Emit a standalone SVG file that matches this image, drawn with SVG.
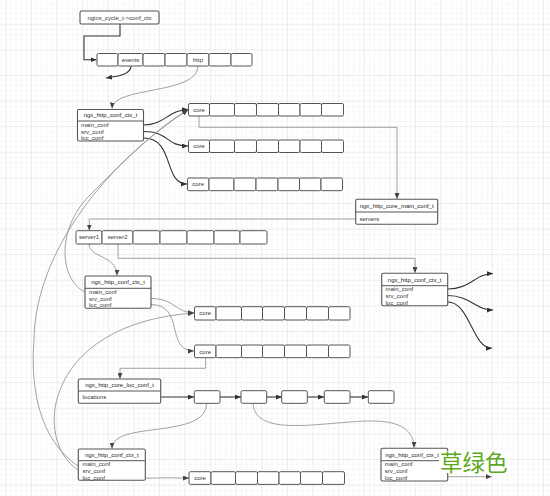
<svg xmlns="http://www.w3.org/2000/svg" width="550" height="496" viewBox="0 0 550 496">
<defs>
<pattern id="minor" width="5.12" height="5.12" patternUnits="userSpaceOnUse" x="5.4" y="23.8">
<path d="M0,0 H5.12 M0,0 V5.12" fill="none" stroke="#f1f1f1" stroke-width="1"/>
</pattern>
<pattern id="major" width="25.6" height="25.6" patternUnits="userSpaceOnUse" x="5.4" y="23.8">
<path d="M0,0 H25.6 M0,0 V25.6" fill="none" stroke="#e2e2e2" stroke-width="1"/>
</pattern>
<marker id="ad" markerWidth="6" markerHeight="5" refX="6" refY="2.5" orient="auto" markerUnits="userSpaceOnUse">
<path d="M0,0 L6,2.5 L0,5 z" fill="#333"/>
</marker>
<marker id="ag" markerWidth="6" markerHeight="5" refX="6" refY="2.5" orient="auto" markerUnits="userSpaceOnUse">
<path d="M0,0 L6,2.5 L0,5 z" fill="#444"/>
</marker>
<style>
.c{fill:#fff;stroke:#555;stroke-width:1}
.b{fill:#fff;stroke:#555;stroke-width:1.1}
.s{stroke:#555;stroke-width:1}
text{font-family:"Liberation Sans",Arial,sans-serif;font-size:6px;fill:#333}
.t{text-anchor:middle;fill:#222}
.m{text-anchor:middle}
.dk{fill:none;stroke:#333;stroke-width:1.1;marker-end:url(#ad)}
.gr{fill:none;stroke:#8a8a8a;stroke-width:0.8;marker-end:url(#ag)}
</style>
</defs>
<rect width="550" height="496" fill="#fff"/>
<rect width="550" height="496" fill="url(#minor)"/>
<rect width="550" height="496" fill="url(#major)"/>

<g id="connectors">
<path class="dk" d="M120,24 V36 H84 V59.7 H96.5"/>
<path class="dk" d="M131,66 C131,74 120,76 106,78"/>
<path class="gr" d="M198,66 C198,95 113,86 112,108.5"/>
<path class="dk" d="M143.5,125 C165,125 168,110 188,109.5"/>
<path class="dk" d="M143.5,131.5 C170,131.5 165,146 188,146"/>
<path class="dk" d="M143.5,138 C175,138 163,184 187,184"/>
<path class="gr" d="M199,116 V127.3 H397 V199"/>
<path class="gr" d="M355.7,219 H89.3 V230.5"/>
<path class="gr" d="M89,244 C89,258 117,255 117,275.5"/>
<path class="gr" d="M118,244 V258.3 H415 V273"/>
<path class="dk" d="M447.7,289 C470,289 475,274 493,273.5"/>
<path class="dk" d="M447.7,295.5 C470,295.5 475,310 493,310"/>
<path class="dk" d="M447.7,302 C470,302 472,348 492,348.3"/>
<path class="gr" d="M151,298.5 C175,298.5 175,312.7 194,312.7"/>
<path class="gr" d="M151,304.5 C185,304.5 165,351 194,351"/>
<path class="gr" d="M205.7,358 V368.3 H120 V378.7"/>
<path class="dk" d="M160.7,397 H194"/>
<path class="dk" d="M220,397 H241"/>
<path class="dk" d="M267,397 H282"/>
<path class="dk" d="M307,397 H324"/>
<path class="dk" d="M350,397 H368"/>
<path class="gr" d="M206.7,403.3 C206.7,440 112,420 112,448.5"/>
<path class="gr" d="M253,403.3 C255,440 330,420 376,421 C400,422 414,430 414,447.8"/>
<path class="gr" d="M145.3,478.3 C165,477.5 175,478 189,478"/>
<path class="gr" d="M447.7,476.7 H491.7"/>
<path class="gr" d="M85,292 C60,280 55,230 90,195 C120,165 160,125 188,110"/>
<path class="gr" d="M78,466 C40,440 30,390 34,340 C35,250 110,160 188,110"/>
<path class="gr" d="M78,470 C55,455 48,420 60,390 C75,350 120,318 194,313"/>
</g>

<g id="nginx_cycle">
<rect class="b" x="80" y="11" width="79" height="13" rx="1.5"/>
<text class="m" x="119.5" y="19.6">nginx_cycle_t-&gt;conf_ctx</text>
</g>

<g id="conf_ctx_array">
<rect class="c" x="97" y="53.5" width="21" height="12.5" rx="1.5"/>
<rect class="c" x="118" y="53.5" width="25" height="12.5" rx="1.5"/>
<rect class="c" x="143" y="53.5" width="22" height="12.5" rx="1.5"/>
<rect class="c" x="165" y="53.5" width="22" height="12.5" rx="1.5"/>
<rect class="c" x="187" y="53.5" width="22" height="12.5" rx="1.5"/>
<rect class="c" x="209" y="53.5" width="22" height="12.5" rx="1.5"/>
<rect class="c" x="231" y="53.5" width="21" height="12.5" rx="1.5"/>
<text class="m" x="130.5" y="61.8">events</text>
<text class="m" x="198" y="61.8">http</text>
</g>

<g id="ctx1">
<rect class="b" x="77.5" y="109.5" width="66" height="31.5" rx="1.5"/>
<line class="s" x1="77.5" y1="121" x2="143.5" y2="121"/>
<text class="t" x="110.5" y="117.3">ngx_http_conf_ctx_t</text>
<text x="81" y="127">main_conf</text>
<text x="81" y="133.5">srv_conf</text>
<text x="81" y="140">loc_conf</text>
</g>

<g id="core_row1">
<rect class="c" x="188.5" y="103.5" width="21" height="12.5" rx="1.5"/>
<rect class="c" x="209.5" y="103.5" width="25" height="12.5" rx="1.5"/>
<rect class="c" x="234.5" y="103.5" width="22" height="12.5" rx="1.5"/>
<rect class="c" x="256.5" y="103.5" width="22" height="12.5" rx="1.5"/>
<rect class="c" x="278.5" y="103.5" width="21.5" height="12.5" rx="1.5"/>
<rect class="c" x="300" y="103.5" width="21.5" height="12.5" rx="1.5"/>
<rect class="c" x="321.5" y="103.5" width="22" height="12.5" rx="1.5"/>
<text class="m" x="199" y="111.8">core</text>
</g>

<g id="core_row2">
<rect class="c" x="188.5" y="140" width="21" height="12.5" rx="1.5"/>
<rect class="c" x="209.5" y="140" width="25" height="12.5" rx="1.5"/>
<rect class="c" x="234.5" y="140" width="22" height="12.5" rx="1.5"/>
<rect class="c" x="256.5" y="140" width="22" height="12.5" rx="1.5"/>
<rect class="c" x="278.5" y="140" width="21.5" height="12.5" rx="1.5"/>
<rect class="c" x="300" y="140" width="21.5" height="12.5" rx="1.5"/>
<rect class="c" x="321.5" y="140" width="22" height="12.5" rx="1.5"/>
<text class="m" x="199" y="148.3">core</text>
</g>

<g id="core_row3">
<rect class="c" x="187.5" y="178" width="21.5" height="12.7" rx="1.5"/>
<rect class="c" x="209" y="178" width="25" height="12.7" rx="1.5"/>
<rect class="c" x="234" y="178" width="22" height="12.7" rx="1.5"/>
<rect class="c" x="256" y="178" width="22" height="12.7" rx="1.5"/>
<rect class="c" x="278" y="178" width="21.5" height="12.7" rx="1.5"/>
<rect class="c" x="299.5" y="178" width="21.5" height="12.7" rx="1.5"/>
<rect class="c" x="321" y="178" width="21.5" height="12.7" rx="1.5"/>
<text class="m" x="198.2" y="186.4">core</text>
</g>

<g id="core_main_conf">
<rect class="b" x="355.7" y="199.3" width="82" height="25" rx="1.5"/>
<line class="s" x1="355.7" y1="212" x2="437.7" y2="212"/>
<text class="t" x="396.7" y="207.7">ngx_http_core_main_conf_t</text>
<text x="359.5" y="220.6">servers</text>
</g>

<g id="servers_array">
<rect class="c" x="76" y="230.7" width="26" height="13.3" rx="1.5"/>
<rect class="c" x="102" y="230.7" width="31" height="13.3" rx="1.5"/>
<rect class="c" x="133" y="230.7" width="27" height="13.3" rx="1.5"/>
<rect class="c" x="160" y="230.7" width="27" height="13.3" rx="1.5"/>
<rect class="c" x="187" y="230.7" width="27" height="13.3" rx="1.5"/>
<rect class="c" x="214" y="230.7" width="26" height="13.3" rx="1.5"/>
<rect class="c" x="240" y="230.7" width="27" height="13.3" rx="1.5"/>
<text class="m" x="89" y="239.4">server1</text>
<text class="m" x="117.5" y="239.4">server2</text>
</g>

<g id="ctx2">
<rect class="b" x="85" y="276" width="66" height="32.3" rx="1.5"/>
<line class="s" x1="85" y1="288.3" x2="151" y2="288.3"/>
<text class="t" x="118" y="284.2">ngx_http_conf_ctx_t</text>
<text x="89" y="294.2">main_conf</text>
<text x="89" y="300.9">srv_conf</text>
<text x="89" y="307.4">loc_conf</text>
</g>

<g id="ctx4">
<rect class="b" x="381.7" y="273.3" width="66" height="32.4" rx="1.5"/>
<line class="s" x1="381.7" y1="285.7" x2="447.7" y2="285.7"/>
<text class="t" x="414.7" y="281.5">ngx_http_conf_ctx_t</text>
<text x="385.5" y="291.3">main_conf</text>
<text x="385.5" y="298">srv_conf</text>
<text x="385.5" y="304.6">loc_conf</text>
</g>

<g id="core_rowA">
<rect class="c" x="194.5" y="306.7" width="21.5" height="13.3" rx="1.5"/>
<rect class="c" x="216" y="306.7" width="25.5" height="13.3" rx="1.5"/>
<rect class="c" x="241.5" y="306.7" width="21" height="13.3" rx="1.5"/>
<rect class="c" x="262.5" y="306.7" width="22" height="13.3" rx="1.5"/>
<rect class="c" x="284.5" y="306.7" width="22" height="13.3" rx="1.5"/>
<rect class="c" x="306.5" y="306.7" width="22" height="13.3" rx="1.5"/>
<rect class="c" x="328.5" y="306.7" width="21.5" height="13.3" rx="1.5"/>
<text class="m" x="205.2" y="315.4">core</text>
</g>

<g id="core_rowB">
<rect class="c" x="194.5" y="345" width="21.5" height="12.7" rx="1.5"/>
<rect class="c" x="216" y="345" width="25.5" height="12.7" rx="1.5"/>
<rect class="c" x="241.5" y="345" width="21" height="12.7" rx="1.5"/>
<rect class="c" x="262.5" y="345" width="22" height="12.7" rx="1.5"/>
<rect class="c" x="284.5" y="345" width="22" height="12.7" rx="1.5"/>
<rect class="c" x="306.5" y="345" width="22" height="12.7" rx="1.5"/>
<rect class="c" x="328.5" y="345" width="21.5" height="12.7" rx="1.5"/>
<text class="m" x="205.2" y="353.5">core</text>
</g>

<g id="core_loc_conf">
<rect class="b" x="78.3" y="379" width="82.4" height="24.3" rx="1.5"/>
<line class="s" x1="78.3" y1="391" x2="160.7" y2="391"/>
<text class="t" x="119.5" y="387">ngx_http_core_loc_conf_t</text>
<text x="82.5" y="399.3">locations</text>
</g>

<g id="loc1"><rect class="c" x="194.3" y="390.7" width="25.7" height="12.6" rx="1.5"/></g>
<g id="loc2"><rect class="c" x="241" y="390.7" width="25.7" height="12.6" rx="1.5"/></g>
<g id="loc3"><rect class="c" x="281.7" y="390.7" width="25.6" height="12.6" rx="1.5"/></g>
<g id="loc4"><rect class="c" x="324.3" y="390.7" width="25.7" height="12.6" rx="1.5"/></g>
<g id="loc5"><rect class="c" x="368.3" y="390.7" width="25.7" height="12.6" rx="1.5"/></g>

<g id="ctx3">
<rect class="b" x="78.3" y="449" width="67" height="31.3" rx="1.5"/>
<line class="s" x1="78.3" y1="460.7" x2="145.3" y2="460.7"/>
<text class="t" x="111.8" y="457">ngx_http_conf_ctx_t</text>
<text x="82.5" y="466.3">main_conf</text>
<text x="82.5" y="473">srv_conf</text>
<text x="82.5" y="479.6">loc_conf</text>
</g>

<g id="core_rowC">
<rect class="c" x="189" y="471.7" width="22" height="12.7" rx="1.5"/>
<rect class="c" x="211" y="471.7" width="24.5" height="12.7" rx="1.5"/>
<rect class="c" x="235.5" y="471.7" width="22" height="12.7" rx="1.5"/>
<rect class="c" x="257.5" y="471.7" width="21.5" height="12.7" rx="1.5"/>
<rect class="c" x="279" y="471.7" width="21.5" height="12.7" rx="1.5"/>
<rect class="c" x="300.5" y="471.7" width="22" height="12.7" rx="1.5"/>
<rect class="c" x="322.5" y="471.7" width="22" height="12.7" rx="1.5"/>
<text class="m" x="200" y="480.2">core</text>
</g>

<g id="ctx5">
<rect class="b" x="381" y="448.3" width="66.7" height="32.7" rx="1.5"/>
<line class="s" x1="381" y1="460.7" x2="447.7" y2="460.7"/>
<text class="t" x="412" y="456.5">ngx_http_conf_ctx_t</text>
<text x="384.8" y="466.3">main_conf</text>
<text x="384.8" y="473">srv_conf</text>
<text x="384.8" y="479.6">loc_conf</text>
</g>

<g id="watermark">
<rect x="439" y="451" width="70" height="22" fill="#fff"/>
<text x="440" y="470.5" style="font-family:'Noto Sans CJK SC','Noto Sans',sans-serif;font-size:22.5px;fill:#5ca81e">草绿色</text>
</g>
</svg>
